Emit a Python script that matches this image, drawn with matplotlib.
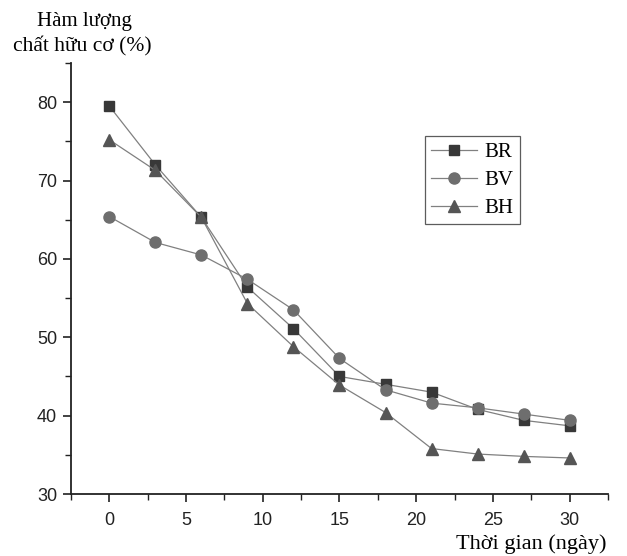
import matplotlib
matplotlib.use("Agg")
import matplotlib.pyplot as plt
from matplotlib.ticker import MultipleLocator

days = [0, 3, 6, 9, 12, 15, 18, 21, 24, 27, 30]
br = [79.5, 72.0, 65.3, 56.4, 51.1, 45.0, 44.0, 43.0, 40.8, 39.4, 38.7]
bv = [65.4, 62.1, 60.5, 57.4, 53.5, 47.3, 43.3, 41.6, 41.0, 40.2, 39.4]
bh = [75.2, 71.3, 65.3, 54.3, 48.8, 43.9, 40.4, 35.8, 35.1, 34.8, 34.6]
series_names = ["BR", "BV", "BH"]

fig = plt.figure(figsize=(6.27, 5.56), dpi=100)
ax = fig.add_axes([0.1132, 0.1115, 0.8565, 0.7752])

line_color = "#808080"
ax.plot(days, br, marker="s", color=line_color, lw=0.9, ms=7,
        mfc="#383838", mec="#383838", label=series_names[0])
ax.plot(days, bv, marker="o", color=line_color, lw=0.9, ms=8,
        mfc="#6e6e6e", mec="#6e6e6e", label=series_names[1])
ax.plot(days, bh, marker="^", color=line_color, lw=0.9, ms=8.5,
        mfc="#555555", mec="#555555", label=series_names[2])

ax.set_xlim(-2.5, 32.5)
ax.set_ylim(30, 85)
ax.xaxis.set_minor_locator(MultipleLocator(2.5))
ax.yaxis.set_minor_locator(MultipleLocator(5))
ax.set_yticks([30, 40, 50, 60, 70, 80])
ax.set_xticks([0, 5, 10, 15, 20, 25, 30])

for s in ["top", "right"]:
    ax.spines[s].set_visible(False)
for s in ["left", "bottom"]:
    ax.spines[s].set_linewidth(1.3)
    ax.spines[s].set_color("#222222")

ax.tick_params(which="major", direction="out", length=6, width=1.2, colors="#222222",
               labelsize=13)
ax.tick_params(axis="y", which="major", pad=4)
ax.tick_params(axis="x", which="major", pad=7)
ax.tick_params(which="minor", direction="out", length=4.5, width=1.0, colors="#222222")
for lbl in ax.get_xticklabels() + ax.get_yticklabels():
    lbl.set_fontfamily("Liberation Sans")

fig.text(0.135, 0.962, "Hàm lượng", ha="center", va="center",
         family="Liberation Serif", fontsize=15)
fig.text(0.132, 0.916, "chất hữu cơ (%)", ha="center", va="center",
         family="Liberation Serif", fontsize=15.5)
fig.text(0.968, 0.022, "Thời gian (ngày)", ha="right", va="center",
         family="Liberation Serif", fontsize=16)

leg = ax.legend(loc="upper left", bbox_to_anchor=(0.659, 0.83), frameon=True,
                fancybox=False, edgecolor="#333333",
                prop={"family": "Liberation Serif", "size": 15},
                handlelength=2.2, labelspacing=0.4, borderpad=0.3,
                handletextpad=0.35, borderaxespad=0)
leg.get_frame().set_linewidth(0.9)

fig.savefig("out.png", dpi=100)
